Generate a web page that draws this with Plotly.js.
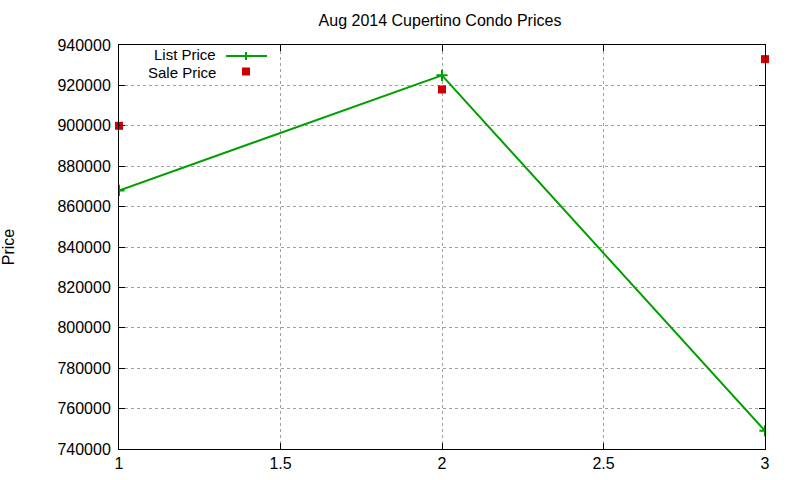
<!DOCTYPE html>
<html>
<head>
<meta charset="utf-8">
<script src="https://cdn.plot.ly/plotly-3.0.1.min.js"></script>
<style>html,body{margin:0;padding:0;background:#fff;}#chart{width:800px;height:480px;}</style>
</head>
<body>
<div id="chart"></div>
<script>
const xValues = [1, 2, 3];
const listPrice = [868000, 925000, 749000];
const salePrice = [900000, 918000, 933000];
const seriesNames = ["List Price", "Sale Price"];
const chartTitle = "Aug 2014 Cupertino Condo Prices";
const yTitle = "Price";

const font = {family: "Liberation Sans, Arial, sans-serif", size: 16, color: "#000"};
const keyFont = {family: "Liberation Sans, Arial, sans-serif", size: 15, color: "#000"};
const green = "#00a000";
const red = "#cc0000";

const traces = [
  {x: xValues, y: listPrice, name: seriesNames[0], type: "scatter", mode: "lines+markers",
   line: {color: green, width: 2}, marker: {symbol: "cross-thin", size: 8, color: green, line: {color: green, width: 2}},
   showlegend: false},
  {x: xValues, y: salePrice, name: seriesNames[1], type: "scatter", mode: "markers",
   marker: {symbol: "square", size: 8, color: red}, cliponaxis: false, showlegend: false}
];

// legend key geometry (paper units)
const px = v => (v - 119) / 646;
const py = v => (449 - v) / 404;

const layout = {
  width: 800, height: 480,
  margin: {l: 119, r: 35, t: 45, b: 31},
  paper_bgcolor: "#fff", plot_bgcolor: "#fff",
  font: font,
  title: {text: chartTitle, font: {family: font.family, size: 16, color: "#000"}, x: 0.55, xanchor: "center", y: 1 - 20/480, yanchor: "middle"},
  xaxis: {range: [1, 3], tickvals: [1, 1.5, 2, 2.5, 3], ticktext: ["1", "1.5", "2", "2.5", "3"],
    showline: true, linecolor: "#000", linewidth: 1, mirror: "ticks",
    ticks: "inside", ticklen: 6, tickcolor: "#000",
    showgrid: true, gridcolor: "#a0a0a0", griddash: "3px,3px", gridwidth: 1,
    zeroline: false, tickfont: font},
  yaxis: {range: [740000, 940000], dtick: 20000, tick0: 740000, tickformat: "d",
    showline: true, linecolor: "#000", linewidth: 1, mirror: "ticks",
    ticks: "inside", ticklen: 6, tickcolor: "#000",
    showgrid: true, gridcolor: "#a0a0a0", griddash: "3px,3px", gridwidth: 1,
    zeroline: false, tickfont: font, ticklabelstandoff: 4,
    title: {text: yTitle, font: font, standoff: 40}},
  annotations: [
    {xref: "paper", yref: "paper", x: px(218), y: py(54.5), xanchor: "right", yanchor: "middle", text: seriesNames[0], showarrow: false, font: keyFont},
    {xref: "paper", yref: "paper", x: px(218), y: py(72.5), xanchor: "right", yanchor: "middle", text: seriesNames[1], showarrow: false, font: keyFont}
  ],
  shapes: [
    {type: "line", xref: "paper", yref: "paper", x0: px(226), x1: px(267), y0: py(56), y1: py(56), line: {color: green, width: 2}},
    {type: "line", xref: "paper", yref: "paper", x0: px(246), x1: px(246), y0: py(52), y1: py(60), line: {color: green, width: 2}},
    {type: "rect", xref: "paper", yref: "paper", x0: px(242), x1: px(250), y0: py(67.5), y1: py(75.5), fillcolor: red, line: {width: 0}}
  ],
  showlegend: false
};

Plotly.newPlot("chart", traces, layout, {staticPlot: true});
</script>
</body>
</html>
